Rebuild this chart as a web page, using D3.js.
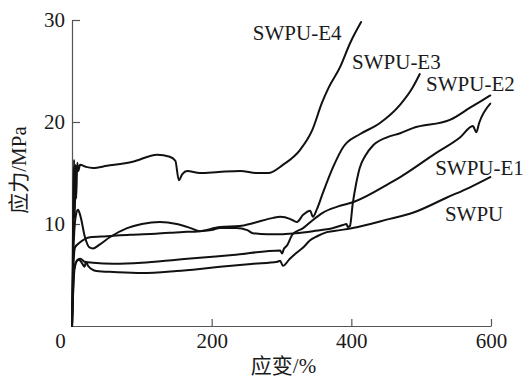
<!DOCTYPE html>
<html>
<head>
<meta charset="utf-8">
<script src="https://cdn.jsdelivr.net/npm/d3@7/dist/d3.min.js"></script>
<style>
  html, body { margin: 0; padding: 0; background: #fff; }
  svg { display: block; }
  text { font-family: "Liberation Serif", "Noto Sans CJK SC", serif; fill: #1a1a1a; }
</style>
</head>
<body>
<svg id="chart" width="523" height="380"></svg>
<script>
// ---- data (strain %, stress MPa) ----
const seriesNames = ["SWPU", "SWPU-E1", "SWPU-E2", "SWPU-E3", "SWPU-E4"];
const xTicks = [0, 200, 400, 600];
const yTicks = [10, 20, 30];
const xTitle = "应变/%";
const yTitle = "应力/MPa";

const swpu = [[0,0],[1.5,3.5],[3,5.6],[6,6.3],[10,6.5],[14,6.2],[18,5.8],[20,6.3],[23,5.9],[35,5.4],[60,5.3],[100,5.2],[150,5.4],[183,5.6],[212,5.8],[260,6.1],[294,6.3],[298,6.4],[302,5.9],[312,6.6],[322,7.2],[331,7.7],[341,8.4],[351,8.8],[365,9.2],[384,9.4],[402,9.6],[455,10.5],[488,11.1],[537,12.6],[570,13.6],[599,14.6]];
const swpuE1 = [[0,0],[1.5,3],[3.5,5.5],[8,6.5],[12,6.6],[18,6.3],[30,6.2],[60,6.1],[100,6.2],[150,6.5],[183,6.7],[230,6.95],[298,7.4],[301,7.1],[303,7.5],[308,7.9],[316,9.0],[331,9.6],[345,10.4],[359,11.1],[380,11.7],[405,12.2],[455,14.0],[470,14.6],[520,16.9],[556,18.5],[574,19.6],[579,19.0],[583,19.9],[599,21.8]];
const swpuE2 = [[0,0],[1.5,6],[3.5,9.5],[6,11],[8.6,11.4],[12,10.8],[18.6,8.7],[25,7.7],[30,7.6],[40,8.0],[54,8.7],[79,9.6],[100,10.0],[126,10.2],[150,10.0],[170,9.6],[183,9.3],[200,9.4],[212,9.6],[235,9.6],[251,9.4],[259,9.1],[280,9.0],[298,9.0],[320,9.1],[345,9.3],[374,9.6],[388,9.9],[393,10.0],[395,9.7],[398,9.8],[402,12.0],[407,14.0],[412,15.5],[420,16.7],[431,17.7],[451,18.5],[470,18.9],[488,19.4],[541,20.2],[570,21.4],[599,22.6]];
const swpuE3 = [[0,0],[1.5,5],[4.3,7.7],[11.5,8.2],[25.8,8.7],[50,8.8],[83,8.95],[120,9.05],[155,9.2],[183,9.3],[212,9.7],[240,9.8],[260,10.1],[288,10.6],[298,10.7],[312,10.5],[318,10.3],[322,10.2],[331,10.9],[341,11.3],[345,10.7],[351,11.5],[359,13.0],[374,15.6],[389,17.6],[394,18.0],[412,18.8],[441,19.9],[470,21.7],[488,23.4],[498,24.7]];
const swpuE4 = [[0,0],[1,6],[2,13],[3,16.3],[4,10.5],[5,15.8],[6,12.5],[7.5,16.0],[9,15.2],[11.5,15.8],[20,15.6],[30,15.5],[50,15.7],[87,16.1],[122,16.8],[140,16.6],[148,16.2],[153,14.3],[158,14.9],[165,15.2],[183,15.0],[210,15.1],[241,15.2],[265,15.0],[281,15.0],[302,15.8],[327,17.3],[344,19.2],[358,21.9],[367,23.3],[384,25.4],[398,27.7],[414,29.8]];

const seriesData = [swpu, swpuE1, swpuE2, swpuE3, swpuE4];
// label anchors in data units (strain, stress)
const labelAnchors = [[534,10.3],[520,14.8],[507,23.0],[401,25.2],[259,28.0]];

// ---- layout ----
const svg = d3.select("#chart");
const x = d3.scaleLinear().domain([0, 600]).range([72, 491]);
const y = d3.scaleLinear().domain([0, 30]).range([326, 20]);
const axisColor = "#555";
const fontSize = 21;

// x axis
const gx = svg.append("g").attr("transform", `translate(0,${y(0)})`)
  .call(d3.axisBottom(x).tickValues(xTicks).tickSize(-7).tickSizeOuter(0).tickPadding(7).tickFormat(d3.format("d")));
gx.select(".domain").attr("stroke", axisColor).attr("stroke-width", 1.2);
gx.selectAll(".tick line").attr("stroke", axisColor).attr("stroke-width", 1.2);
gx.selectAll(".tick text").attr("font-size", fontSize).attr("font-family", "Liberation Serif").attr("fill", "#1a1a1a")
  .attr("dx", d => d === 0 ? -12 : 0);

// y axis
const gy = svg.append("g").attr("transform", `translate(${x(0)},0)`)
  .call(d3.axisLeft(y).tickValues(yTicks).tickSize(-8).tickSizeOuter(0).tickPadding(7).tickFormat(d3.format("d")));
gy.select(".domain").attr("stroke", axisColor).attr("stroke-width", 1.2);
gy.selectAll(".tick line").attr("stroke", axisColor).attr("stroke-width", 1.2);
gy.selectAll(".tick text").attr("font-size", fontSize).attr("font-family", "Liberation Serif").attr("fill", "#1a1a1a");

// lines
const line = d3.line().x(d => x(d[0])).y(d => y(d[1])).curve(d3.curveMonotoneX);
svg.append("g").selectAll("path").data(seriesData).join("path")
  .attr("d", line).attr("fill", "none").attr("stroke", "#111")
  .attr("stroke-width", 2).attr("stroke-linejoin", "round").attr("stroke-linecap", "round");

// series labels
svg.append("g").selectAll("text").data(seriesNames).join("text")
  .attr("x", (d, i) => x(labelAnchors[i][0]))
  .attr("y", (d, i) => y(labelAnchors[i][1]))
  .attr("font-size", fontSize)
  .text(d => d);

// axis titles
svg.append("text").attr("x", (x(0) + x(600)) / 2 + 2).attr("y", 366)
  .attr("text-anchor", "middle").attr("dominant-baseline", "central")
  .attr("font-size", fontSize).text(xTitle);
svg.append("text").attr("transform", `translate(19,${(y(0) + y(30)) / 2 - 3}) rotate(-90)`)
  .attr("text-anchor", "middle").attr("dominant-baseline", "central")
  .attr("font-size", fontSize).text(yTitle);
</script>
</body>
</html>
